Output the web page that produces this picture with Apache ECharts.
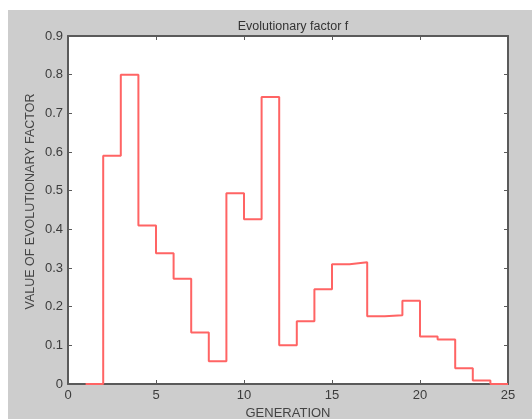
<!DOCTYPE html>
<html><head><meta charset="utf-8">
<script src="https://cdn.jsdelivr.net/npm/echarts@6/dist/echarts.min.js"></script>
<style>
html,body{margin:0;padding:0;background:#fff;width:532px;height:419px;overflow:hidden}
#c{position:absolute;left:8px;top:10px;width:524px;height:409px;background:#cdcdcd}
</style></head>
<body><div id="c"></div>
<script>
const generations = [1,2,3,4,5,6,7,8,9,10,11,12,13,14,15,16,17,18,19,20,21,22,23,24,25];
const factorValues = [0,0.59,0.80,0.41,0.338,0.272,0.133,0.059,0.493,0.426,0.742,0.100,0.162,0.245,0.310,0.315,0.175,0.178,0.215,0.123,0.115,0.041,0.009,0,0];
const xTicks = [0,5,10,15,20,25];
const yTicks = [0,0.1,0.2,0.3,0.4,0.5,0.6,0.7,0.8,0.9];
const titleText = 'Evolutionary factor f';
const xName = 'GENERATION';
const yName = 'VALUE OF EVOLUTIONARY FACTOR';

const chart = echarts.init(document.getElementById('c'), null, {renderer:'canvas'});
const FF = 'Liberation Sans, Arial, sans-serif';
const lab = {color:'#3c3c3c', fontFamily:FF, fontSize:13};
const axisLine = {show:true, onZero:false, lineStyle:{color:'#5a5a5a', width:2}};
const tick = {show:true, inside:true, length:4, lineStyle:{color:'#5a5a5a', width:1}};
chart.setOption({
  animation:false,
  title:{text:titleText, left:280, top:5, textAlign:'center',
    textStyle:{fontSize:12.5, fontWeight:'normal', color:'#333', fontFamily:FF}},
  grid:{left:60, top:26, right:24, bottom:35, show:true, backgroundColor:'#fff', borderWidth:0,
    containLabel:false, outerBoundsMode:'none'},
  graphic:[{type:'text', x:23, y:191.5, rotation:Math.PI/2,
    style:{text:yName, fill:'#444', font:'12.5px ' + FF, textAlign:'center', textVerticalAlign:'middle'}}],
  xAxis:[{type:'value', min:0, max:25, interval:5, position:'bottom',
     axisLine:axisLine, axisTick:tick, splitLine:{show:false},
     axisLabel:Object.assign({margin:5}, lab),
     name:xName, nameLocation:'middle', nameGap:21,
     nameTextStyle:{fontSize:13, color:'#444', fontFamily:FF}},
    {type:'value', min:0, max:25, interval:5, position:'top',
     axisLine:axisLine, axisTick:tick, axisLabel:{show:false}, splitLine:{show:false}}],
  yAxis:[{type:'value', min:0, max:0.9, interval:0.1, position:'left',
     axisLine:axisLine, axisTick:tick, splitLine:{show:false},
     axisLabel:Object.assign({margin:5, formatter:v=>String(+v.toFixed(1))}, lab)},
    {type:'value', min:0, max:0.9, interval:0.1, position:'right',
     axisLine:axisLine, axisTick:tick, axisLabel:{show:false}, splitLine:{show:false}}],
  series:[{type:'line', step:'end', symbol:'none',
    data:generations.map((g,i)=>[g,factorValues[i]]),
    lineStyle:{color:'#ff6464', width:2}, z:1}]
});
</script></body></html>
